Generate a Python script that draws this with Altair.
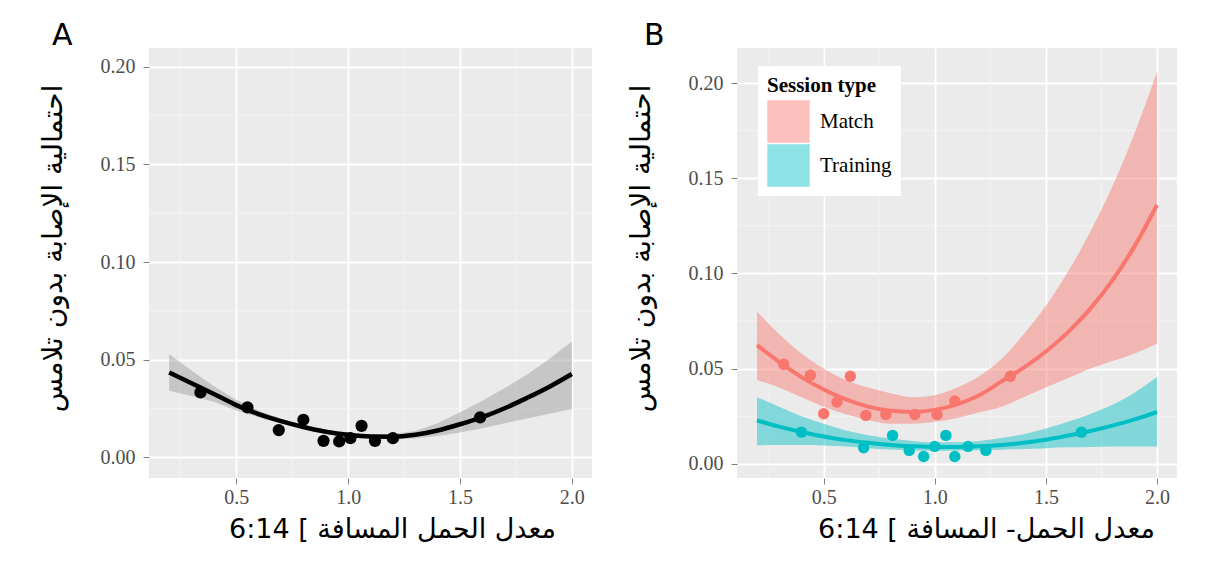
import altair as alt
import pandas as pd

# ---------------- data ----------------
fit_x = [0.2, 0.3, 0.4, 0.5, 0.6, 0.7, 0.8, 0.9, 1.0, 1.1,
         1.2, 1.3, 1.4, 1.5, 1.6, 1.7, 1.8, 1.9, 2.0]

# Panel A
a_pt_x = [0.34, 0.55, 0.69, 0.80, 0.89, 0.96, 1.01, 1.06, 1.12, 1.20, 1.59]
a_pt_y = [0.0333, 0.0256, 0.0140, 0.0193, 0.0085, 0.0082, 0.0099, 0.0162, 0.0085, 0.0099, 0.0205]
a_fit = [0.0435, 0.0380, 0.0325, 0.0268, 0.0222, 0.0186, 0.0156, 0.0132, 0.0116, 0.0107,
         0.0106, 0.0116, 0.0138, 0.0170, 0.0207, 0.0252, 0.0305, 0.0362, 0.0427]
a_lo = [0.0341, 0.0315, 0.0285, 0.0240, 0.0205, 0.0174, 0.0146, 0.0122, 0.0106, 0.0096,
        0.0092, 0.0097, 0.0110, 0.0128, 0.0150, 0.0175, 0.0200, 0.0224, 0.0248]
a_hi = [0.0529, 0.0445, 0.0365, 0.0295, 0.0240, 0.0198, 0.0167, 0.0142, 0.0126, 0.0118,
        0.0120, 0.0135, 0.0175, 0.0232, 0.0290, 0.0355, 0.0425, 0.0505, 0.0594]

# Panel B
sessions = ["Match", "Training"]
m_pt_x = [0.32, 0.44, 0.62, 0.50, 0.56, 0.69, 0.78, 0.91, 1.01, 1.09, 1.34]
m_pt_y = [0.0523, 0.0465, 0.0460, 0.0263, 0.0324, 0.0254, 0.0259, 0.0259, 0.0259, 0.0330, 0.0460]
t_pt_x = [0.40, 0.68, 0.81, 0.885, 0.95, 1.00, 1.05, 1.09, 1.15, 1.23, 1.66]
t_pt_y = [0.0166, 0.0084, 0.0149, 0.0070, 0.0038, 0.0091, 0.0149, 0.0038, 0.0091, 0.0070, 0.0166]

m_fit = [0.0623, 0.0535, 0.0455, 0.0390, 0.0338, 0.0300, 0.0278, 0.0272, 0.0283, 0.0312,
         0.0360, 0.0432, 0.0505, 0.0590, 0.0692, 0.0815, 0.0965, 0.1145, 0.1360]
m_lo = [0.0440, 0.0400, 0.0350, 0.0300, 0.0260, 0.0230, 0.0210, 0.0210, 0.0220, 0.0240,
        0.0270, 0.0300, 0.0350, 0.0400, 0.0450, 0.0500, 0.0540, 0.0580, 0.0630]
m_hi = [0.0800, 0.0680, 0.0580, 0.0500, 0.0440, 0.0400, 0.0370, 0.0350, 0.0360, 0.0400,
        0.0460, 0.0550, 0.0680, 0.0830, 0.1010, 0.1220, 0.1460, 0.1740, 0.2060]

t_fit = [0.0228, 0.0195, 0.0167, 0.0143, 0.0124, 0.0110, 0.0099, 0.0092, 0.0088, 0.0088,
         0.0092, 0.0099, 0.0110, 0.0126, 0.0148, 0.0172, 0.0200, 0.0233, 0.0272]
t_lo = [0.0096, 0.0098, 0.0098, 0.0096, 0.0090, 0.0082, 0.0075, 0.0070, 0.0068, 0.0068,
        0.0071, 0.0074, 0.0078, 0.0082, 0.0086, 0.0088, 0.0090, 0.0091, 0.0091]
t_hi = [0.0350, 0.0300, 0.0250, 0.0210, 0.0175, 0.0150, 0.0132, 0.0120, 0.0113, 0.0113,
        0.0120, 0.0135, 0.0155, 0.0185, 0.0220, 0.0262, 0.0310, 0.0375, 0.0456]

x_ticks = [0.5, 1.0, 1.5, 2.0]
x_minor = [0.25, 0.75, 1.25, 1.75]
y_ticks = [0.0, 0.05, 0.10, 0.15, 0.20]
y_minor = [0.025, 0.075, 0.125, 0.175]

y_title = "احتمالية الإصابة بدون تلامس"
xa_title = "6:14 [ معدل الحمل المسافة"
xb_title = "6:14 [ معدل الحمل- المسافة"

colors = ["#F8766D", "#00BFC4"]

# ---------------- frames ----------------
a_pts = pd.DataFrame({"x": a_pt_x, "y": a_pt_y})
a_fitdf = pd.DataFrame({"x": fit_x, "fit": a_fit, "lo": a_lo, "hi": a_hi})

b_pts = pd.DataFrame({
    "x": m_pt_x + t_pt_x,
    "y": m_pt_y + t_pt_y,
    "session": [sessions[0]] * len(m_pt_x) + [sessions[1]] * len(t_pt_x),
})
b_fitdf = pd.DataFrame({
    "x": fit_x + fit_x,
    "fit": m_fit + t_fit,
    "lo": m_lo + t_lo,
    "hi": m_hi + t_hi,
    "session": [sessions[0]] * len(fit_x) + [sessions[1]] * len(fit_x),
})
minor_x_df = pd.DataFrame({"v": x_minor})
minor_y_df = pd.DataFrame({"v": y_minor})

X_DOM = [0.11, 2.09]
LABEL_FONT = "Liberation Serif"
TITLE_FONT = "DejaVu Sans"


def panel(fit_df, pts_df, ydom, xtitle, letter, w, h, title_x, letter_dx, color_enc=None):
    xs = alt.Scale(domain=X_DOM, nice=False, zero=False)
    ys = alt.Scale(domain=ydom, nice=False, zero=False)
    xax = alt.Axis(values=x_ticks, format=".1f", title=xtitle, grid=True,
                   labelFont=LABEL_FONT, labelFontSize=20, labelPadding=3,
                   titleFont=TITLE_FONT, titleFontSize=27, titlePadding=9, titleX=title_x)
    yax = alt.Axis(values=y_ticks, format=".2f", title=y_title, grid=True,
                   labelFont=LABEL_FONT, labelFontSize=20, labelPadding=8,
                   titleFont=TITLE_FONT, titleFontSize=28, titlePadding=33, titleY=200)

    vminor = alt.Chart(minor_x_df).mark_rule(color="#F5F5F5", strokeWidth=0.9).encode(
        x=alt.X("v:Q", scale=xs, axis=xax))
    hminor = alt.Chart(minor_y_df).mark_rule(color="#F5F5F5", strokeWidth=0.9).encode(
        y=alt.Y("v:Q", scale=ys, axis=yax))

    base = alt.Chart(fit_df)
    if color_enc is None:
        band = base.mark_area(color="#999999", opacity=0.45).encode(
            x=alt.X("x:Q", scale=xs, axis=xax), y=alt.Y("lo:Q", scale=ys, axis=yax), y2="hi:Q")
        line = base.mark_line(color="black", strokeWidth=4.5, interpolate="monotone").encode(
            x=alt.X("x:Q", scale=xs), y=alt.Y("fit:Q", scale=ys))
        pts = alt.Chart(pts_df).mark_circle(color="black", opacity=1, size=150).encode(
            x=alt.X("x:Q", scale=xs), y=alt.Y("y:Q", scale=ys))
    else:
        leg = alt.Legend(
            title="Session type", orient="none", legendX=21, legendY=18,
            fillColor="white", padding=9, symbolType="square", symbolSize=1800,
            symbolOpacity=0.45, symbolStrokeWidth=0, labelFont=LABEL_FONT,
            labelFontSize=21, labelColor="black", titleFont=LABEL_FONT,
            titleFontSize=21, titleFontWeight="bold", titleColor="black",
            rowPadding=1, labelOffset=10, titlePadding=4)
        cs = alt.Scale(domain=sessions, range=colors)
        band = base.mark_area(opacity=0.45, interpolate="monotone").encode(
            x=alt.X("x:Q", scale=xs, axis=xax), y=alt.Y("lo:Q", scale=ys, axis=yax), y2="hi:Q",
            color=alt.Color("session:N", scale=cs, legend=leg))
        line = base.mark_line(strokeWidth=4, interpolate="monotone").encode(
            x=alt.X("x:Q", scale=xs), y=alt.Y("fit:Q", scale=ys),
            color=alt.Color("session:N", scale=cs, legend=None))
        pts = alt.Chart(pts_df).mark_circle(opacity=1, size=130).encode(
            x=alt.X("x:Q", scale=xs), y=alt.Y("y:Q", scale=ys),
            color=alt.Color("session:N", scale=cs, legend=None))

    return alt.layer(vminor, hminor, band, line, pts).properties(
        width=w, height=h,
        title=alt.TitleParams(letter, anchor="start", frame="bounds", font="DejaVu Sans",
                              fontSize=30, fontWeight="normal", color="black",
                              dx=letter_dx, offset=-3),
    )


pa = panel(a_fitdf, a_pts, [-0.0105, 0.2095], xa_title, "A", 443, 430, 243, 13)
pb = panel(b_fitdf, b_pts, [-0.0075, 0.2185], xb_title, "B", 440, 430, 249, 17, color_enc=True)

chart = alt.hconcat(pa, pb, spacing=34).resolve_scale(
    color="independent"
).resolve_legend(
    color="independent"
).properties(
    padding={"left": 31, "top": 12, "right": 5, "bottom": 5},
    background="white",
).configure_view(
    fill="#EBEBEB", stroke=None
).configure_axis(
    labelColor="#4D4D4D", tickColor="#7F7F7F", tickSize=6, tickWidth=1,
    domain=False, gridColor="white", gridWidth=1.8,
    titleFontWeight="normal", titleColor="black",
)

chart.save("out.html", embed_options={"renderer": "svg", "actions": False})
